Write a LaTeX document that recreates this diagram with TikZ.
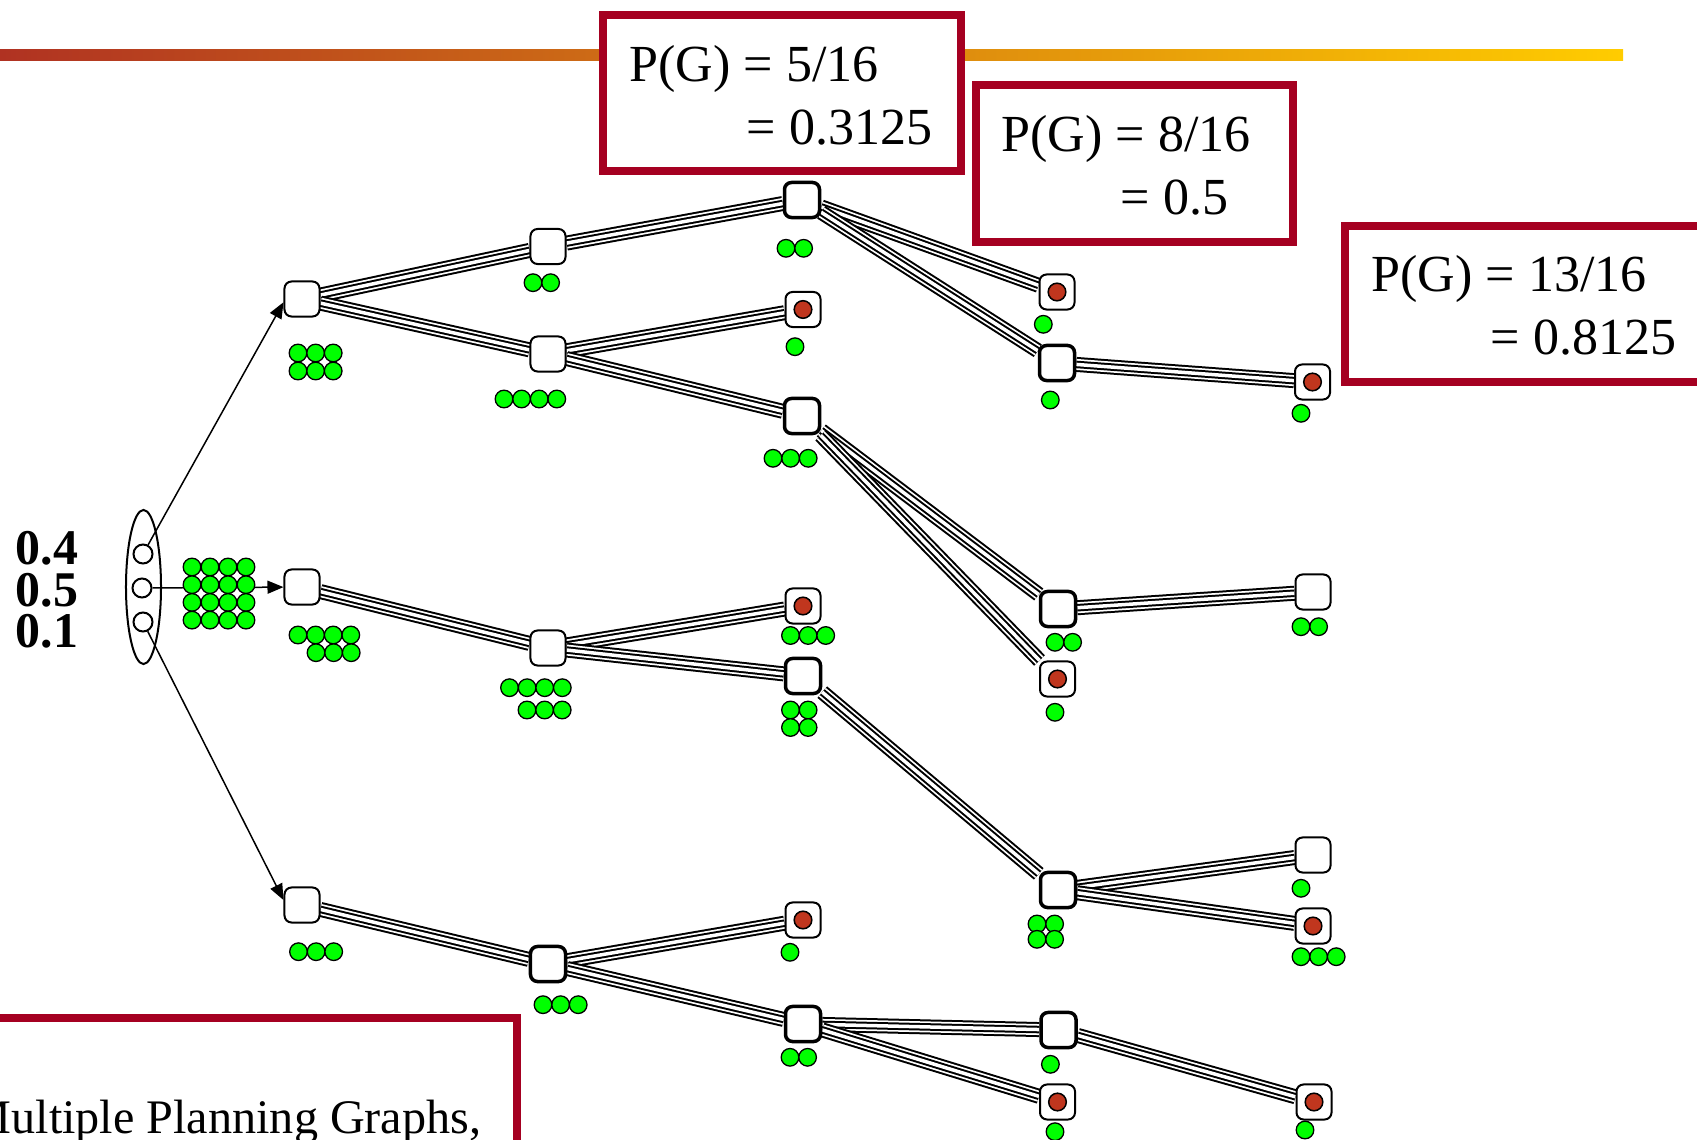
\documentclass[tikz,border=0pt]{standalone}
\usepackage{fontspec}
\setmainfont{Liberation Serif}
\usetikzlibrary{arrows.meta,backgrounds}

\definecolor{framered}{RGB}{165,0,33}
\definecolor{goalred}{RGB}{192,54,30}
\definecolor{litgreen}{RGB}{0,255,0}
\definecolor{barleft}{RGB}{176,50,34}
\definecolor{barmid}{RGB}{204,128,26}
\definecolor{barright}{RGB}{255,204,0}

\tikzset{
  sbox/.style={draw, fill=white, rounded corners=0.7mm, minimum size=3.5mm, inner sep=0pt, line width=0.2mm},
  sboxthick/.style={sbox, line width=0.35mm},
  sgoal/.style={sbox, path picture={\draw[fill=goalred, line width=0.15mm] (path picture bounding box.center) circle (0.88mm);}},
  cable/.style={line width=1.5mm, postaction={draw=white, line width=1.1mm}, postaction={draw=black, line width=0.75mm}, postaction={draw=white, line width=0.35mm}},
  lit/.style={fill=litgreen, draw=black, line width=0.13mm},
  probframe/.style={draw=framered, line width=0.8mm, fill=white},
  ptext/.style={anchor=base west, inner sep=0pt, font=\fontsize{14.8}{17}\selectfont},
  wprob/.style={align=center, inner sep=0pt, font=\bfseries\fontsize{14.2}{11.8}\selectfont},
  world/.style={circle, draw, fill=white, minimum size=1.9mm, inner sep=0pt, line width=0.2mm},
  pick/.style={-{Triangle[length=1.6mm, width=1.3mm]}, line width=0.15mm}
}

\newcommand{\litrow}[3]{\foreach \k in {1,...,#3} \draw[lit] ({#1+(\k-1)*17.6},#2) circle (0.88mm);}

\begin{document}
\begin{tikzpicture}[x=0.01cm, y=-0.01cm]
    \useasboundingbox (0,0) rectangle (1697,1140);
    \clip (0,0) rectangle (1697,1140);

    \node[sbox] (a1) at (302,299) {};
    \node[sbox] (a2) at (302,587) {};
    \node[sbox] (a3) at (302,905) {};
    \node[sbox] (b1) at (548,246.5) {};
    \node[sbox] (b2) at (548,354) {};
    \node[sbox] (b3) at (548,648) {};
    \node[sboxthick] (b4) at (548,964) {};
    \node[sboxthick] (c1) at (802,200) {};
    \node[sgoal] (c2) at (803,309.5) {};
    \node[sboxthick] (c3) at (802,416) {};
    \node[sgoal] (c4) at (803,606) {};
    \node[sboxthick] (c5) at (803,676) {};
    \node[sgoal] (c6) at (803,920) {};
    \node[sboxthick] (c7) at (803,1024) {};
    \node[sgoal] (d1) at (1057,292) {};
    \node[sboxthick] (d2) at (1057,363) {};
    \node[sboxthick] (d3) at (1058,609) {};
    \node[sgoal] (d4) at (1057.5,679) {};
    \node[sboxthick] (d5) at (1058,890) {};
    \node[sboxthick] (d6) at (1058.5,1030) {};
    \node[sgoal] (d7) at (1057.5,1102) {};
    \node[sgoal] (e1) at (1312.5,382) {};
    \node[sbox] (e3) at (1313,592) {};
    \node[sbox] (e5) at (1313,855) {};
    \node[sgoal] (e6) at (1313,926) {};
    \node[sgoal] (e7) at (1314,1102) {};

    \begin{scope}[on background layer]
        \shade[left color=barleft, middle color=barmid, right color=barright] (0,50) rectangle (1623,61);
        \foreach \u/\v in {a1/b1,a1/b2,b1/c1,b2/c2,b2/c3,c1/d1,c1/d2,d2/e1,c3/d3,c3/d4,d3/e3,
                           a2/b3,b3/c4,b3/c5,c5/d5,d5/e5,d5/e6,a3/b4,b4/c6,b4/c7,c7/d6,c7/d7,d6/e7}
            \draw[cable] (\u) -- (\v);
    \end{scope}

    \draw[line width=0.2mm] (143.5,587) ellipse [x radius=1.75mm, y radius=7.7mm];
    \node[world] (w1) at (143,554) {};
    \node[world] (w2) at (142,588) {};
    \node[world] (w3) at (143,622) {};
    \node[wprob] (wp) at (47,590) {0.4\\0.5\\0.1};

    \draw[pick] (w1) -- (a1.190);
    \draw[pick] (w2) -- (a2);
    \draw[pick] (w3) -- (a3.165);

    \foreach \r in {0,...,3}
        \foreach \c in {0,...,3}
            \draw[lit] ({192+18*\c},{567+17.7*\r}) circle (0.88mm);

    \foreach \px/\py/\n in {298/353/3, 298/371/3, 533/282.7/2, 504/399/4, 786/248.3/2, 795/346.7/1,
                            773/458.3/3, 1043.3/324.3/1, 1050.3/400/1, 1301/413.3/1,
                            298/635/4, 316/652.7/3, 509.5/687.7/4, 527/710/3, 790.5/635.5/3,
                            790.5/710/2, 790.5/727.5/2, 1055/642.3/2, 1055/712.3/1, 1301/626.7/2,
                            298.5/951.7/3, 543/1004.7/3, 790/952.3/1, 790/1057.3/2, 1037/924/2,
                            1037/939.3/2, 1050.4/1064.3/1, 1055/1131.7/1, 1301/888.3/1,
                            1301/956.7/3, 1305/1130/1}
        {\litrow{\px}{\py}{\n}}

    \draw[probframe] (603,15) rectangle (961,171.5);
    \node[ptext] (pg1a) at (629,82) {P(G) = 5/16};
    \node[ptext] (pg1b) at (746,145) {= 0.3125};
    \draw[probframe] (976,85) rectangle (1293,242);
    \node[ptext] (pg2a) at (1001,152) {P(G) = 8/16};
    \node[ptext] (pg2b) at (1120,215) {= 0.5};
    \draw[probframe] (1345,226) rectangle (1740,382);
    \node[ptext] (pg3a) at (1371,292) {P(G) = 13/16};
    \node[ptext] (pg3b) at (1490,355) {= 0.8125};
    \draw[probframe] (-20,1018) rectangle (517,1180);
    \node[anchor=base east, inner sep=0pt, font=\fontsize{13.7}{16}\selectfont] (note) at (482,1133) {Multiple Planning Graphs,};
\end{tikzpicture}
\end{document}
